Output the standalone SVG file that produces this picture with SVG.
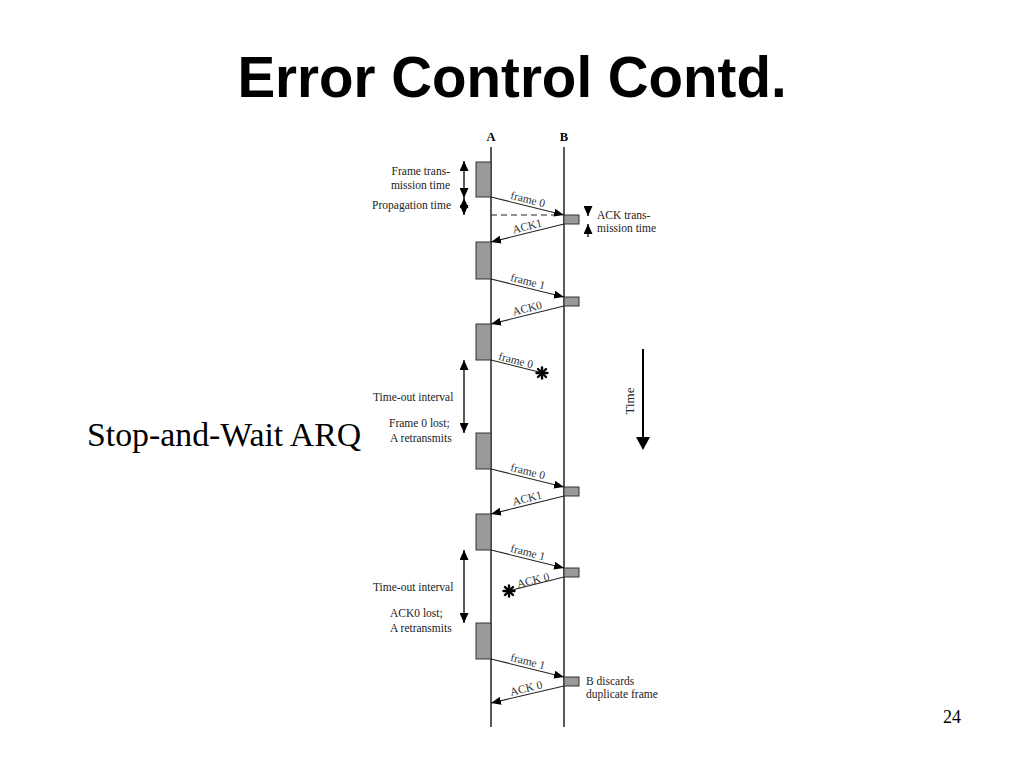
<svg xmlns="http://www.w3.org/2000/svg" width="1024" height="768" viewBox="0 0 1024 768">
<style>
.t{font-family:"Liberation Serif","Times New Roman",serif;font-size:11.5px;fill:#222}
.lb{font-family:"Liberation Serif","Times New Roman",serif;font-size:11.5px;fill:#333}
.life{stroke:#000;stroke-width:1.3;fill:none}
.fr{fill:#999;stroke:#333;stroke-width:1}
.ar{stroke:#222;stroke-width:1.1;fill:none;marker-end:url(#ah)}
.dim{stroke:#000;stroke-width:1.3;fill:none;marker-start:url(#ah2);marker-end:url(#ah2)}
.star{stroke:#000;stroke-width:2.4;stroke-linecap:round}
.hd{font-family:"Liberation Serif","Times New Roman",serif;font-size:12.5px;font-weight:bold;fill:#000}
</style>
<defs>
<marker id="ah" markerWidth="10" markerHeight="8" refX="10" refY="4" orient="auto" markerUnits="userSpaceOnUse">
<path d="M0,0 L10,4 L0,8 z" fill="#000"/>
</marker>
<marker id="ah2" markerWidth="10" markerHeight="9" refX="10" refY="4.5" orient="auto-start-reverse" markerUnits="userSpaceOnUse">
<path d="M0,0 L10,4.5 L0,9 z" fill="#000"/>
</marker>
</defs>
<rect width="1024" height="768" fill="#fff"/>
<text x="512" y="97" text-anchor="middle" style="font-family:'Liberation Sans',Arial,sans-serif;font-size:56.5px;font-weight:bold;fill:#000">Error Control Contd.</text>
<text x="87" y="446" style="font-family:'Liberation Serif','Times New Roman',serif;font-size:33.8px;fill:#000">Stop-and-Wait ARQ</text>
<text x="952" y="723" text-anchor="middle" style="font-family:'Liberation Serif','Times New Roman',serif;font-size:18px;fill:#000">24</text>

<g id="stationA">
<text class="hd" x="491" y="141" text-anchor="middle">A</text>
<line class="life" x1="491" y1="147" x2="491" y2="727"/>
<rect class="fr" x="476" y="162" width="15" height="35"/>
<rect class="fr" x="476" y="242" width="15" height="37"/>
<rect class="fr" x="476" y="324" width="15" height="36"/>
<rect class="fr" x="476" y="433" width="15" height="36"/>
<rect class="fr" x="476" y="514" width="15" height="36"/>
<rect class="fr" x="476" y="623" width="15" height="36"/>
</g>
<g id="stationB">
<text class="hd" x="564" y="141" text-anchor="middle">B</text>
<line class="life" x1="564" y1="147" x2="564" y2="727"/>
<rect class="fr" x="564" y="215" width="15" height="9"/>
<rect class="fr" x="564" y="297" width="15" height="9"/>
<rect class="fr" x="564" y="487" width="15" height="9"/>
<rect class="fr" x="564" y="568" width="15" height="9"/>
<rect class="fr" x="564" y="677" width="15" height="9"/>
</g>

<g id="connectors">
<line x1="491" y1="215" x2="560" y2="215" stroke="#222" stroke-width="1.1" stroke-dasharray="6,4"/>
<line class="ar" x1="491" y1="197" x2="564" y2="215"/>
<line class="ar" x1="564" y1="224" x2="491" y2="242"/>
<line class="ar" x1="491" y1="279" x2="564" y2="297"/>
<line class="ar" x1="564" y1="306" x2="491" y2="324"/>
<line stroke="#222" stroke-width="1.1" x1="491" y1="360" x2="539" y2="372"/>
<line class="ar" x1="491" y1="469" x2="564" y2="487"/>
<line class="ar" x1="564" y1="496" x2="491" y2="514"/>
<line class="ar" x1="491" y1="550" x2="564" y2="568"/>
<line stroke="#222" stroke-width="1.1" x1="564" y1="577" x2="512" y2="590"/>
<line class="ar" x1="491" y1="659" x2="564" y2="677"/>
<line class="ar" x1="564" y1="686" x2="491" y2="703"/>
</g>

<g id="arrow-labels">
<text class="lb" x="527" y="203" text-anchor="middle" transform="rotate(14 527 203)">frame 0</text>
<text class="lb" x="528" y="230" text-anchor="middle" transform="rotate(-14 528 230)">ACK1</text>
<text class="lb" x="527" y="285" text-anchor="middle" transform="rotate(14 527 285)">frame 1</text>
<text class="lb" x="528" y="312" text-anchor="middle" transform="rotate(-14 528 312)">ACK0</text>
<text class="lb" x="515" y="364" text-anchor="middle" transform="rotate(14 515 364)">frame 0</text>
<text class="lb" x="527" y="475" text-anchor="middle" transform="rotate(14 527 475)">frame 0</text>
<text class="lb" x="528" y="502" text-anchor="middle" transform="rotate(-14 528 502)">ACK1</text>
<text class="lb" x="527" y="556" text-anchor="middle" transform="rotate(14 527 556)">frame 1</text>
<text class="lb" x="534" y="584" text-anchor="middle" transform="rotate(-14 534 584)">ACK 0</text>
<text class="lb" x="527" y="665" text-anchor="middle" transform="rotate(14 527 665)">frame 1</text>
<text class="lb" x="527" y="692" text-anchor="middle" transform="rotate(-14 527 692)">ACK 0</text>
</g>

<g id="lost-marks">
<g transform="translate(542 373)">
<line class="star" x1="-5.5" y1="0" x2="5.5" y2="0"/>
<line class="star" x1="0" y1="-5.5" x2="0" y2="5.5"/>
<line class="star" x1="-4" y1="-4" x2="4" y2="4"/>
<line class="star" x1="-4" y1="4" x2="4" y2="-4"/>
</g>
<g transform="translate(509 591)">
<line class="star" x1="-5.5" y1="0" x2="5.5" y2="0"/>
<line class="star" x1="0" y1="-5.5" x2="0" y2="5.5"/>
<line class="star" x1="-4" y1="-4" x2="4" y2="4"/>
<line class="star" x1="-4" y1="4" x2="4" y2="-4"/>
</g>
</g>

<g id="annotations-left">
<line class="dim" x1="464" y1="161" x2="464" y2="198"/>
<line class="dim" x1="464" y1="198" x2="464" y2="215"/>
<text class="t" x="450" y="175" text-anchor="end">Frame trans-</text>
<text class="t" x="450" y="189" text-anchor="end">mission time</text>
<text class="t" x="451" y="209" text-anchor="end">Propagation time</text>
<line class="dim" x1="464" y1="360" x2="464" y2="433"/>
<text class="t" x="373" y="401">Time-out interval</text>
<text class="t" x="389" y="427">Frame 0 lost;</text>
<text class="t" x="390" y="442">A retransmits</text>
<line class="dim" x1="464" y1="550" x2="464" y2="623"/>
<text class="t" x="373" y="591">Time-out interval</text>
<text class="t" x="390" y="617">ACK0 lost;</text>
<text class="t" x="390" y="632">A retransmits</text>
</g>

<g id="annotations-right">
<line stroke="#000" stroke-width="1.3" x1="588" y1="207" x2="588" y2="216" marker-end="url(#ah2)"/>
<line stroke="#000" stroke-width="1.3" x1="588" y1="237" x2="588" y2="224" marker-end="url(#ah2)"/>
<text class="t" x="597" y="219">ACK trans-</text>
<text class="t" x="597" y="232">mission time</text>
<text class="t" x="586" y="685">B discards</text>
<text class="t" x="586" y="698">duplicate frame</text>
</g>

<g id="time-axis">
<line x1="643" y1="349" x2="643" y2="438" stroke="#000" stroke-width="2"/>
<polygon points="636,437 650,437 643,450" fill="#000"/>
<text class="t" x="634" y="401" text-anchor="middle" transform="rotate(-90 634 401)" style="font-size:13px">Time</text>
</g>
</svg>
